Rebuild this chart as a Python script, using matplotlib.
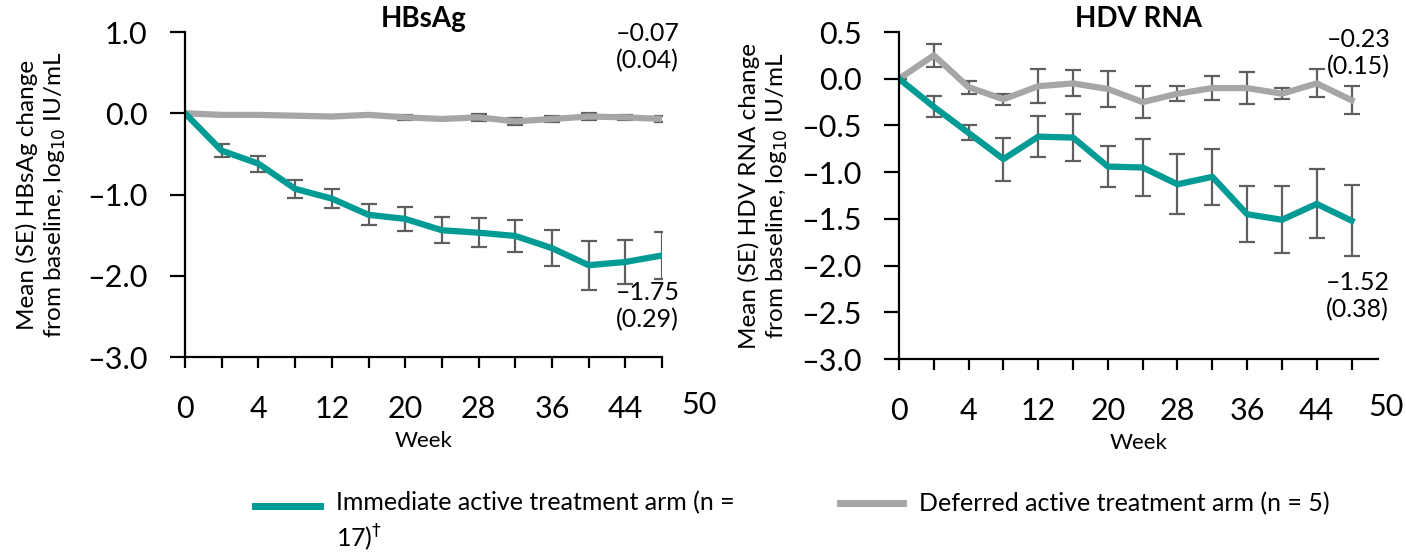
import numpy as np
import matplotlib.pyplot as plt
from matplotlib.lines import Line2D
from matplotlib.legend_handler import HandlerLine2D

plt.rcParams['font.family'] = ['Lato', 'DejaVu Sans']

weeks = [0, 2, 4, 8, 12, 16, 20, 24, 28, 32, 36, 40, 44, 48]
tick_labels = ['0', '', '4', '', '12', '', '20', '', '28', '', '36', '', '44', '']

# HBsAg, mean change and SE
hbs_imm = [0.0, -0.46, -0.62, -0.93, -1.05, -1.25, -1.30, -1.44, -1.47, -1.51, -1.66, -1.87, -1.83, -1.75]
hbs_imm_se = [0.0, 0.08, 0.10, 0.11, 0.12, 0.13, 0.15, 0.16, 0.18, 0.20, 0.22, 0.30, 0.27, 0.29]
hbs_def = [0.0, -0.02, -0.02, -0.03, -0.04, -0.02, -0.05, -0.07, -0.05, -0.10, -0.07, -0.04, -0.05, -0.07]
hbs_def_se = [0.0, 0.01, 0.01, 0.01, 0.01, 0.01, 0.03, 0.01, 0.04, 0.04, 0.04, 0.04, 0.03, 0.04]

# HDV RNA, mean change and SE
hdv_imm = [0.0, -0.30, -0.58, -0.86, -0.62, -0.63, -0.94, -0.95, -1.13, -1.05, -1.45, -1.51, -1.34, -1.52]
hdv_imm_se = [0.0, 0.11, 0.08, 0.23, 0.22, 0.25, 0.22, 0.30, 0.32, 0.30, 0.30, 0.36, 0.37, 0.38]
hdv_def = [0.0, 0.25, -0.09, -0.22, -0.08, -0.05, -0.11, -0.25, -0.16, -0.10, -0.10, -0.16, -0.05, -0.23]
hdv_def_se = [0.0, 0.12, 0.07, 0.06, 0.18, 0.14, 0.19, 0.17, 0.08, 0.13, 0.17, 0.06, 0.15, 0.15]

teal = '#009B95'
grey = '#A6A6A6'
ebar = '#5F5F5F'

fig = plt.figure(figsize=(14.06, 5.53), dpi=100)
ax1 = fig.add_axes([0.1316, 0.3544, 0.3393, 0.5877])
ax2 = fig.add_axes([0.6394, 0.3508, 0.3407, 0.5913])

x = np.arange(len(weeks))


def panel(ax, imm, imm_se, dfr, dfr_se, title, ylabel, yticks, xmax):
    ax.errorbar(x, dfr, yerr=dfr_se, color=grey, lw=4.5, ecolor=ebar,
                elinewidth=1.6, capsize=5.5, capthick=1.6)
    ax.errorbar(x, imm, yerr=imm_se, color=teal, lw=4.5, ecolor=ebar,
                elinewidth=1.6, capsize=5.5, capthick=1.6)
    for s in ['top', 'right']:
        ax.spines[s].set_visible(False)
    for s in ['left', 'bottom']:
        ax.spines[s].set_linewidth(1.6)
    ax.set_xlim(0, xmax)
    ax.set_ylim(yticks[0], yticks[-1])
    ax.set_xticks(x)
    ax.set_xticklabels(tick_labels)
    ax.set_yticks(yticks)
    ax.set_yticklabels([('%.1f' % v).replace('-', '\u2013') for v in yticks])
    ax.tick_params(axis='x', direction='out', length=8, width=1.6, pad=19, labelsize=22)
    ax.tick_params(axis='y', direction='out', length=11, width=1.6, pad=16, labelsize=22)
    ax.text(14, -0.105, '50', transform=ax.get_xaxis_transform(), ha='center',
            va='top', fontsize=22)
    ax.set_xlabel('Week', fontsize=16, labelpad=6)
    ax.set_title(title, fontsize=20, fontweight='bold', pad=3)
    ax.set_ylabel(ylabel, fontsize=17.5, linespacing=1.25)


panel(ax1, hbs_imm, hbs_imm_se, hbs_def, hbs_def_se, 'HBsAg',
      'Mean (SE) HBsAg change\nfrom baseline, log$_{10}$ IU/mL',
      [-3.0, -2.0, -1.0, 0.0, 1.0], 13)
panel(ax2, hdv_imm, hdv_imm_se, hdv_def, hdv_def_se, 'HDV RNA',
      'Mean (SE) HDV RNA change\nfrom baseline, log$_{10}$ IU/mL',
      [-3.0, -2.5, -2.0, -1.5, -1.0, -0.5, 0.0, 0.5], 13.76)
ax1.yaxis.set_label_coords(-0.245, 0.5)
ax2.yaxis.set_label_coords(-0.228, 0.5)

ax1.text(12.6, 0.81, '\u20130.07\n(0.04)', ha='center', va='center', fontsize=18, linespacing=1.2)
ax1.text(12.6, -2.37, '\u20131.75\n(0.29)', ha='center', va='center', fontsize=18, linespacing=1.2)
ax2.text(13.2, 0.27, '\u20130.23\n(0.15)', ha='center', va='center', fontsize=18, linespacing=1.2)
ax2.text(13.17, -2.33, '\u20131.52\n(0.38)', ha='center', va='center', fontsize=18, linespacing=1.2)


class TopLineHandler(HandlerLine2D):
    # put the legend line level with the first text line
    def __init__(self, shift=0.0, **kw):
        super().__init__(**kw)
        self.shift = shift

    def create_artists(self, legend, orig_handle, xdescent, ydescent,
                       width, height, fontsize, trans):
        arts = super().create_artists(legend, orig_handle, xdescent, ydescent,
                                      width, height, fontsize, trans)
        for a in arts:
            a.set_ydata(np.asarray(a.get_ydata()) + self.shift * fontsize)
        return arts


h_imm = Line2D([], [], color=teal, lw=5)
h_def = Line2D([], [], color=grey, lw=5)
leg1 = fig.legend([h_imm], ['Immediate active treatment arm (n =\n17)$^{\\dagger}$'],
                  loc='upper left', bbox_to_anchor=(255 / 1406, 1 - 491 / 553),
                  frameon=False, fontsize=18, handlelength=2.6, handletextpad=0.65,
                  borderpad=0, borderaxespad=0,
                  handler_map={h_imm: TopLineHandler(shift=0.68)})
leg1.get_texts()[0].set_linespacing(1.32)
leg2 = fig.legend([h_def], ['Deferred active treatment arm (n = 5)'],
                  loc='upper left', bbox_to_anchor=(840 / 1406, 1 - 492 / 553),
                  frameon=False, fontsize=18, handlelength=2.5, handletextpad=0.65,
                  borderpad=0, borderaxespad=0)

fig.savefig('out.png', dpi=100)
